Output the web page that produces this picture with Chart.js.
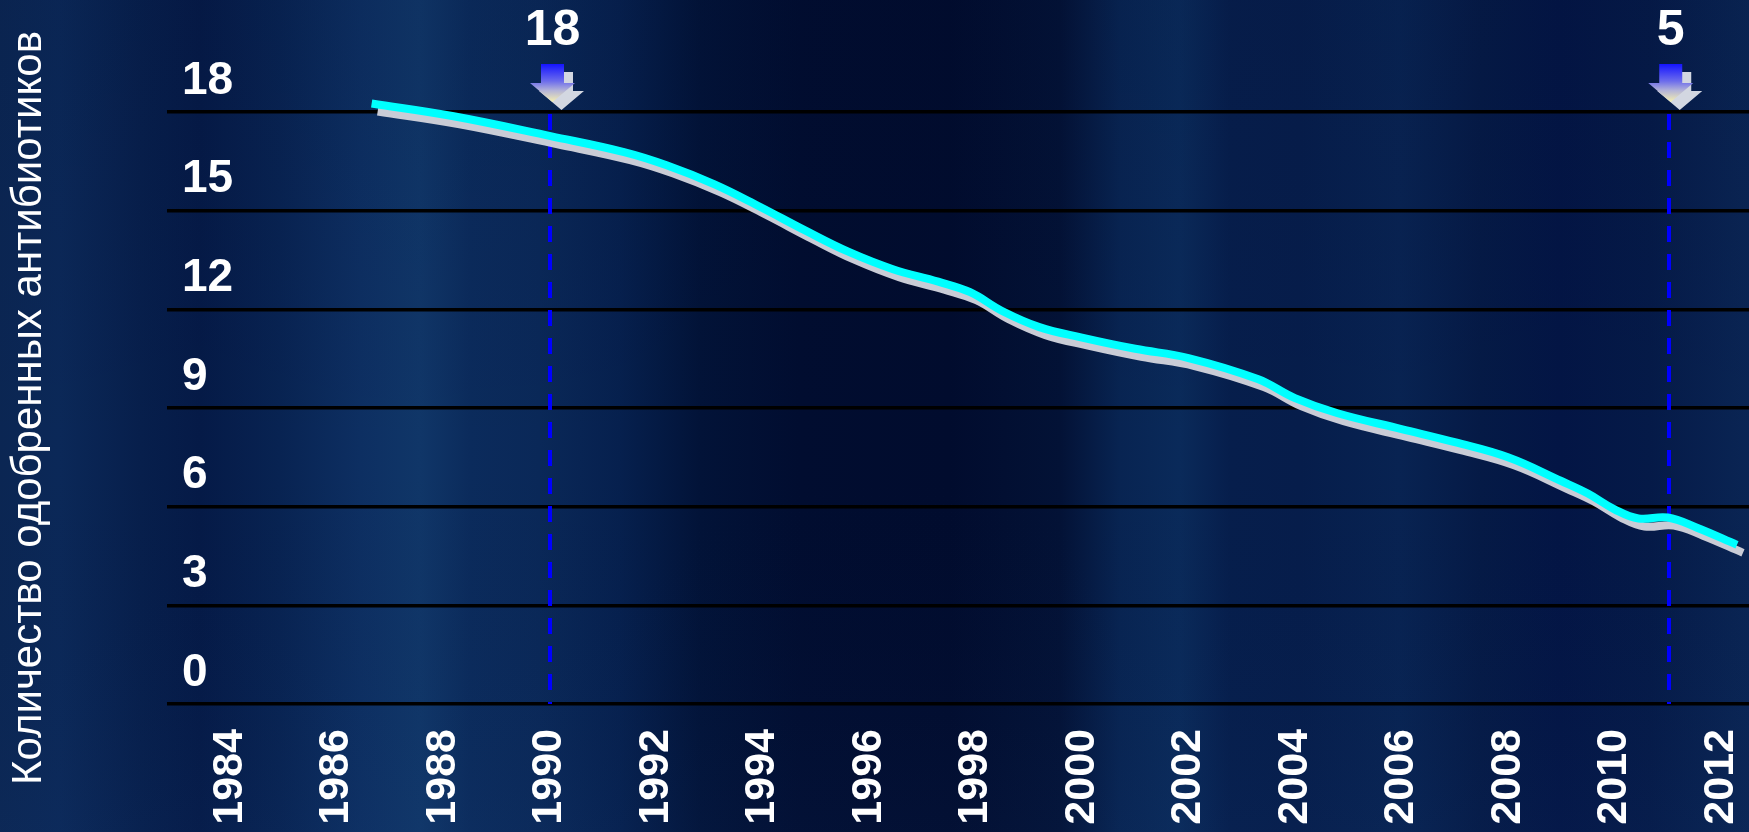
<!DOCTYPE html>
<html lang="ru">
<head>
<meta charset="utf-8">
<title>Количество одобренных антибиотиков</title>
<script src="https://cdn.jsdelivr.net/npm/chart.js@4/dist/chart.umd.min.js"></script>
<style>
  html, body { margin: 0; padding: 0; background: #061d4a; }
  #wrap { width: 1749px; height: 832px; }
  canvas { display: block; }
</style>
</head>
<body>
<div id="wrap"><canvas id="chart" width="1749" height="832"></canvas></div>
<script>
// Traced curve: year (fractional) and number of approved antibiotics
const years = [1986.66, 1988.2, 1990.04, 1991.4, 1992.2, 1993.1, 1993.95, 1994.8,
               1995.6, 1996.45, 1997.3, 1997.9, 1998.5, 1999.2, 2000.0, 2001.0,
               2002.0, 2003.3, 2004.0, 2004.8, 2006.0, 2007.0, 2008.0, 2009.0,
               2009.5, 2010.0, 2010.45, 2011.0, 2011.55, 2012.3];
const approvals = [18.26, 17.87, 17.26, 16.78, 16.38, 15.80, 15.12, 14.40,
                   13.76, 13.22, 12.84, 12.52, 11.95, 11.46, 11.14, 10.80,
                   10.52, 9.88, 9.30, 8.84, 8.36, 7.96, 7.50, 6.78,
                   6.40, 5.92, 5.64, 5.67, 5.36, 4.84];

// Axis ticks
const xTickYears = [1984, 1986, 1988, 1990, 1992, 1994, 1996, 1998, 2000, 2002, 2004, 2006, 2008, 2010, 2012];
const yTickValues = [0, 3, 6, 9, 12, 15, 18];

// Highlighted years with their callout numbers
const markerYears = [1990, 2011];
const markerLabels = ['18', '5'];

const axisTitle = 'Количество одобренных антибиотиков';
const FONT = '"Liberation Sans", Arial, sans-serif';

// Dark blue streaked backdrop
const backdrop = {
  id: 'backdrop',
  beforeDraw(chart) {
    const { ctx, width, height } = chart;
    const stops = [
      [0, '#0b2653'], [60, '#0b2858'], [140, '#071f4c'], [200, '#051a47'],
      [280, '#082352'], [360, '#0d2f62'], [420, '#103668'], [470, '#0b2b5c'],
      [540, '#0a2858'], [620, '#06204e'], [700, '#021338'], [800, '#010d30'],
      [950, '#010c2e'], [1060, '#031236'], [1120, '#082452'], [1180, '#0a2a5a'],
      [1230, '#061e4c'], [1300, '#061d4b'], [1400, '#082352'], [1480, '#051a46'],
      [1560, '#031545'], [1650, '#051a48'], [1749, '#0a2554']
    ];
    const g = ctx.createLinearGradient(0, 0, width, 0);
    stops.forEach(([x, c]) => g.addColorStop(x / width, c));
    ctx.save();
    ctx.fillStyle = g;
    ctx.fillRect(0, 0, width, height);
    const v = ctx.createLinearGradient(0, 0, 0, height);
    v.addColorStop(0, 'rgba(0,10,40,0.08)');
    v.addColorStop(0.55, 'rgba(0,10,40,0.0)');
    v.addColorStop(1, 'rgba(30,70,130,0.08)');
    ctx.fillStyle = v;
    ctx.fillRect(0, 0, width, height);
    ctx.restore();
  }
};

// Vertical dashed guides at the highlighted years
const guides = {
  id: 'guides',
  beforeDatasetsDraw(chart) {
    const { ctx, chartArea, scales } = chart;
    ctx.save();
    ctx.strokeStyle = '#0000ff';
    ctx.lineWidth = 4;
    ctx.setLineDash([16, 12]);
    markerYears.forEach(yr => {
      const x = Math.round(scales.x.getPixelForValue(yr)) + 1;
      ctx.beginPath();
      ctx.moveTo(x, chartArea.top + 2);
      ctx.lineTo(x, chartArea.bottom);
      ctx.stroke();
    });
    ctx.restore();
  }
};

// Arrows and callout numbers above the guides
function arrowPath(ctx, cx, tip) {
  const shaftHalf = 11.5, headHalf = 22.5;
  const shaftTop = tip - 38, headBase = tip - 19;
  ctx.beginPath();
  ctx.moveTo(cx - shaftHalf, shaftTop);
  ctx.lineTo(cx + shaftHalf, shaftTop);
  ctx.lineTo(cx + shaftHalf, headBase);
  ctx.lineTo(cx + headHalf, headBase);
  ctx.lineTo(cx, tip);
  ctx.lineTo(cx - headHalf, headBase);
  ctx.lineTo(cx - shaftHalf, headBase);
  ctx.closePath();
}
const callouts = {
  id: 'callouts',
  afterDraw(chart) {
    const { ctx, chartArea, scales } = chart;
    ctx.save();
    markerYears.forEach((yr, i) => {
      const cx = scales.x.getPixelForValue(yr) + 3;
      const tip = chartArea.top - 10;
      // shadow arrow
      ctx.save();
      ctx.translate(9, 8);
      arrowPath(ctx, cx, tip);
      ctx.fillStyle = '#d3d7e1';
      ctx.fill();
      ctx.restore();
      // front arrow
      const g = ctx.createLinearGradient(0, tip - 38, 0, tip);
      g.addColorStop(0, '#1414ff');
      g.addColorStop(0.45, '#6c6cec');
      g.addColorStop(0.7, '#b4b4d8');
      g.addColorStop(1, '#f6f0b0');
      arrowPath(ctx, cx, tip);
      ctx.fillStyle = g;
      ctx.fill();
      // number
      ctx.fillStyle = '#ffffff';
      ctx.font = 'bold 50px ' + FONT;
      ctx.textAlign = 'center';
      ctx.textBaseline = 'alphabetic';
      ctx.fillText(markerLabels[i], cx, 45);
    });
    ctx.restore();
  }
};

// Light grey drop shadow under the curve
const curveShadow = {
  id: 'curveShadow',
  beforeDatasetDraw(chart) {
    const ctx = chart.ctx;
    ctx.save();
    ctx.shadowColor = '#c9ccd6';
    ctx.shadowOffsetX = 6;
    ctx.shadowOffsetY = 8;
    ctx.shadowBlur = 0;
  },
  afterDatasetDraw(chart) {
    chart.ctx.restore();
  }
};

new Chart(document.getElementById('chart'), {
  type: 'line',
  data: {
    datasets: [{
      data: years.map((x, i) => ({ x, y: approvals[i] })),
      borderColor: '#00ffff',
      borderWidth: 8,
      borderCapStyle: 'butt',
      borderJoinStyle: 'round',
      pointRadius: 0,
      tension: 0.4,
      fill: false,
      clip: false
    }]
  },
  options: {
    responsive: false,
    animation: false,
    devicePixelRatio: 1,
    layout: { padding: { top: 112, left: 0, right: 0, bottom: 0 } },
    plugins: { legend: { display: false }, tooltip: { enabled: false } },
    scales: {
      x: {
        type: 'linear',
        min: 1982.817,
        max: 2012.526,
        afterBuildTicks(s) { s.ticks = xTickYears.map(v => ({ value: v })); },
        afterFit(s) { s.height = 128; s.paddingLeft = 0; s.paddingRight = 0; },
        grid: { display: false },
        border: { display: false },
        ticks: {
          color: '#ffffff',
          font: { family: FONT, size: 43, weight: 'bold' },
          minRotation: 90,
          maxRotation: 90,
          padding: 17,
          autoSkip: false,
          callback: v => String(v)
        }
      },
      y: {
        min: 0,
        max: 18,
        afterBuildTicks(s) { s.ticks = yTickValues.map(v => ({ value: v })); },
        afterFit(s) { s.width = 167; s.paddingTop = 0; s.paddingBottom = 0; },
        grid: { color: '#000000', lineWidth: 3.5, drawTicks: false },
        border: { display: false },
        ticks: {
          mirror: true,
          padding: 15,
          labelOffset: -31,
          color: '#ffffff',
          font: { family: FONT, size: 46, weight: 'bold' },
          callback: v => String(v)
        },
        title: {
          display: true,
          text: axisTitle,
          color: '#ffffff',
          font: { family: FONT, size: 42 },
          padding: { top: 4, bottom: 0 }
        }
      }
    }
  },
  plugins: [backdrop, guides, curveShadow, callouts]
});
</script>
</body>
</html>
